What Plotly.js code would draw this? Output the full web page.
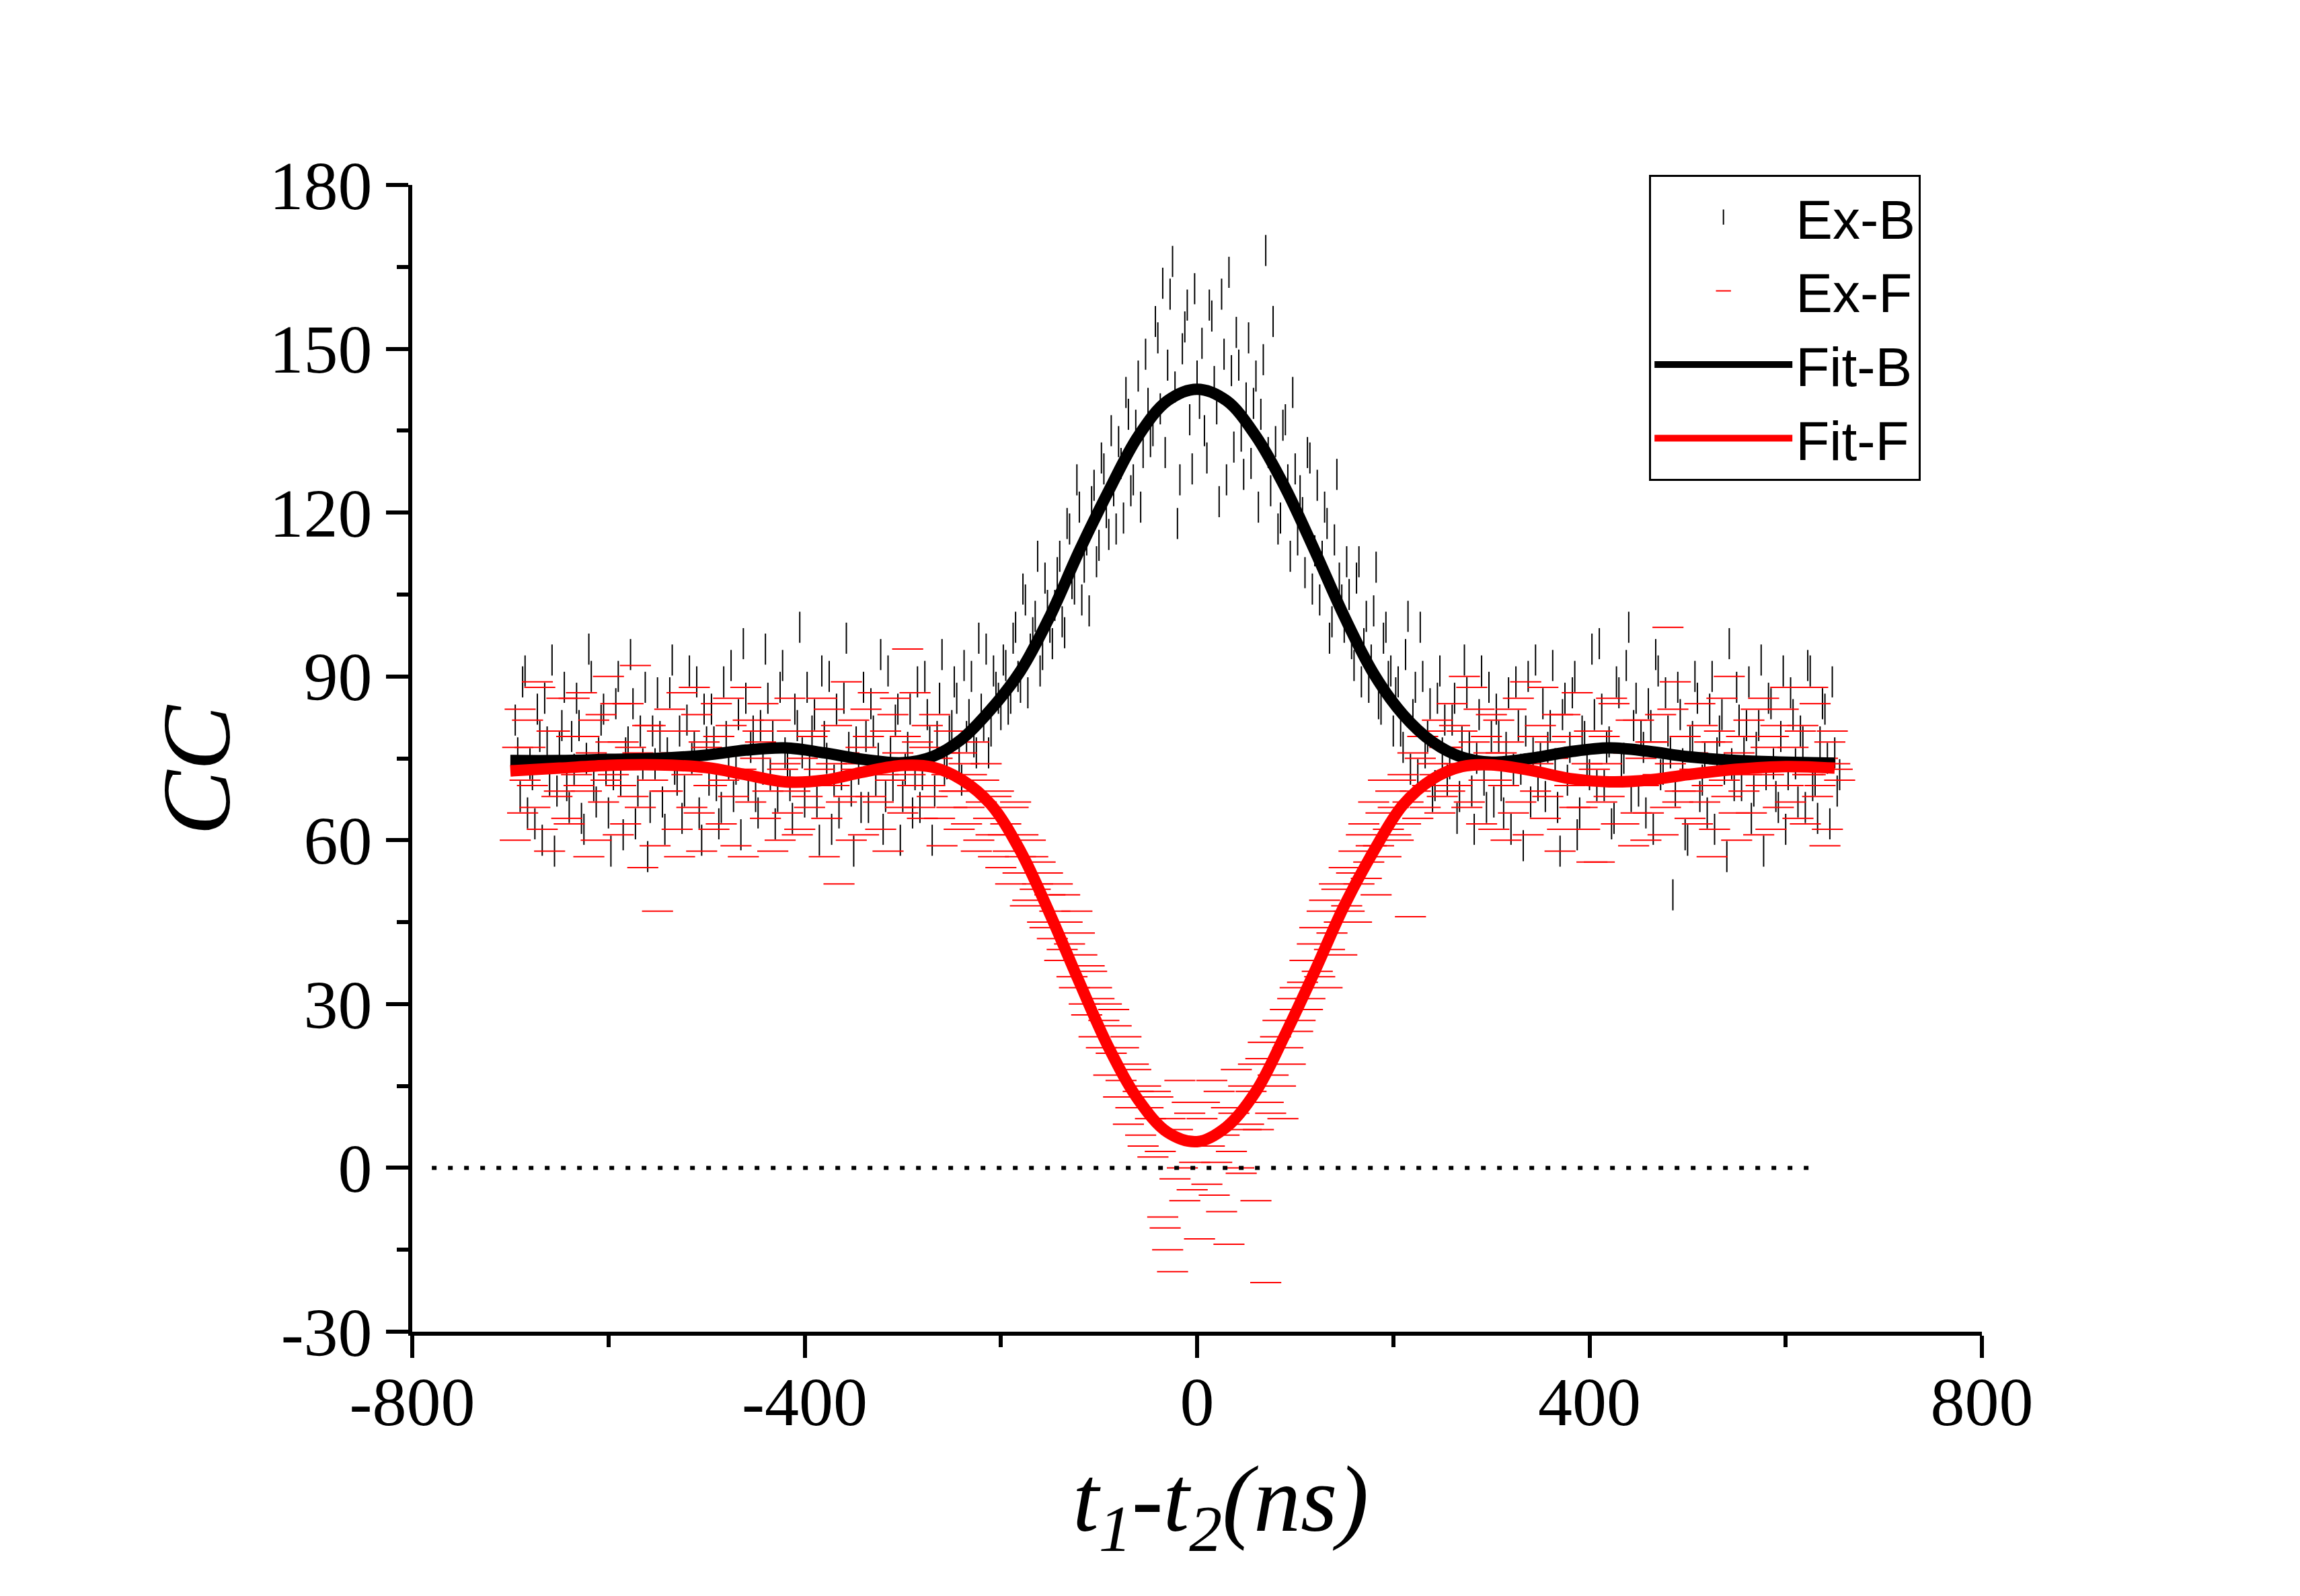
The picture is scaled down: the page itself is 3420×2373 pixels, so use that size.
<!DOCTYPE html>
<html>
<head>
<meta charset="utf-8">
<script src="https://cdn.plot.ly/plotly-3.0.1.min.js"></script>
<style>html,body{margin:0;padding:0;background:#fff;}#chart{width:3420px;height:2373px;}</style>
</head>
<body>
<div id="chart"></div>
<script>
// time offsets t1 - t2 (ns), first set of bins
const timeNs = [
 -695,-690,-685,-680,-675,-670,-665,-660,-655,-650,
 -645,-640,-635,-630,-625,-620,-615,-610,-605,-600,
 -595,-590,-585,-580,-575,-570,-565,-560,-555,-550,
 -545,-540,-535,-530,-525,-520,-515,-510,-505,-500,
 -495,-490,-485,-480,-475,-470,-465,-460,-455,-450,
 -445,-440,-435,-430,-425,-420,-415,-410,-405,-400,
 -395,-390,-385,-380,-375,-370,-365,-360,-355,-350,
 -345,-340,-335,-330,-325,-320,-315,-310,-305,-300,
 -295,-290,-285,-280,-275,-270,-265,-260,-255,-250,
 -245,-240,-235,-230,-225,-220,-215,-210,-205,-200,
 -195,-190,-185,-180,-175,-170,-165,-160,-155,-150,
 -145,-140,-135,-130,-125,-120,-115,-110,-105,-100,
 -95,-90,-85,-80,-75,-70,-65,-60,-55,-50,
 -45,-40,-35,-30,-25,-20,-15,-10,-5,0,
 5,10,15,20,25,30,35,40,45,50,
 55,60,65,70,75,80,85,90,95,100,
 105,110,115,120,125,130,135,140,145,150,
 155,160,165,170,175,180,185,190,195,200,
 205,210,215,220,225,230,235,240,245,250,
 255,260,265,270,275,280,285,290,295,300,
 305,310,315,320,325,330,335,340,345,350,
 355,360,365,370,375,380,385,390,395,400,
 405,410,415,420,425,430,435,440,445,450,
 455,460,465,470,475,480,485,490,495,500,
 505,510,515,520,525,530,535,540,545,550,
 555,560,565,570,575,580,585,590,595,600,
 605,610,615,620,625,630,635,640,645,650,
 655
];

// time offsets t1 - t2 (ns), interleaved second set of bins
const timeNs2 = [
 -692.5,-687.5,-682.5,-677.5,-672.5,-667.5,-662.5,-657.5,-652.5,-647.5,
 -642.5,-637.5,-632.5,-627.5,-622.5,-617.5,-612.5,-607.5,-602.5,-597.5,
 -592.5,-587.5,-582.5,-577.5,-572.5,-567.5,-562.5,-557.5,-552.5,-547.5,
 -542.5,-537.5,-532.5,-527.5,-522.5,-517.5,-512.5,-507.5,-502.5,-497.5,
 -492.5,-487.5,-482.5,-477.5,-472.5,-467.5,-462.5,-457.5,-452.5,-447.5,
 -442.5,-437.5,-432.5,-427.5,-422.5,-417.5,-412.5,-407.5,-402.5,-397.5,
 -392.5,-387.5,-382.5,-377.5,-372.5,-367.5,-362.5,-357.5,-352.5,-347.5,
 -342.5,-337.5,-332.5,-327.5,-322.5,-317.5,-312.5,-307.5,-302.5,-297.5,
 -292.5,-287.5,-282.5,-277.5,-272.5,-267.5,-262.5,-257.5,-252.5,-247.5,
 -242.5,-237.5,-232.5,-227.5,-222.5,-217.5,-212.5,-207.5,-202.5,-197.5,
 -192.5,-187.5,-182.5,-177.5,-172.5,-167.5,-162.5,-157.5,-152.5,-147.5,
 -142.5,-137.5,-132.5,-127.5,-122.5,-117.5,-112.5,-107.5,-102.5,-97.5,
 -92.5,-87.5,-82.5,-77.5,-72.5,-67.5,-62.5,-57.5,-52.5,-47.5,
 -42.5,-37.5,-32.5,-27.5,-22.5,-17.5,-12.5,-7.5,-2.5,2.5,
 7.5,12.5,17.5,22.5,27.5,32.5,37.5,42.5,47.5,52.5,
 57.5,62.5,67.5,72.5,77.5,82.5,87.5,92.5,97.5,102.5,
 107.5,112.5,117.5,122.5,127.5,132.5,137.5,142.5,147.5,152.5,
 157.5,162.5,167.5,172.5,177.5,182.5,187.5,192.5,197.5,202.5,
 207.5,212.5,217.5,222.5,227.5,232.5,237.5,242.5,247.5,252.5,
 257.5,262.5,267.5,272.5,277.5,282.5,287.5,292.5,297.5,302.5,
 307.5,312.5,317.5,322.5,327.5,332.5,337.5,342.5,347.5,352.5,
 357.5,362.5,367.5,372.5,377.5,382.5,387.5,392.5,397.5,402.5,
 407.5,412.5,417.5,422.5,427.5,432.5,437.5,442.5,447.5,452.5,
 457.5,462.5,467.5,472.5,477.5,482.5,487.5,492.5,497.5,502.5,
 507.5,512.5,517.5,522.5,527.5,532.5,537.5,542.5,547.5,552.5,
 557.5,562.5,567.5,572.5,577.5,582.5,587.5,592.5,597.5,602.5,
 607.5,612.5,617.5,622.5,627.5,632.5,637.5,642.5,647.5,652.5
];

// Ex-B measured coincidence counts (first bins)
const exB = [
 82,68,91,74,63,79,86,71,58,77,
 88,66,73,81,62,95,70,76,84,65,
 72,90,61,78,85,69,74,57,80,87,
 67,76,93,71,64,82,75,89,60,78,
 84,70,66,79,92,73,61,86,77,68,
 81,95,72,63,88,76,70,84,99,67,
 74,83,60,79,90,71,65,86,77,58,
 73,88,66,80,75,62,91,70,84,68,
 77,65,89,72,83,60,79,94,74,81,
 86,71,79,90,76,84,95,80,88,83,
 92,86,99,88,104,95,101,91,108,99,
 103,112,98,117,106,121,110,102,125,114,
 128,116,124,133,119,138,126,145,131,140,
 135,152,162,147,166,118,150,158,128,145,
 151,130,156,139,160,126,146,153,134,141,
 129,145,138,168,124,133,119,137,112,128,
 124,109,130,113,104,121,97,115,108,99,
 105,92,111,96,88,102,85,97,90,80,
 89,77,101,83,72,90,79,68,86,76,
 71,82,64,78,87,69,75,91,66,79,
 84,70,77,62,89,73,80,67,93,75,
 68,81,74,58,86,77,90,65,79,72,
 83,96,70,78,64,87,75,99,81,69,
 77,85,62,91,73,80,50,88,74,60,
 79,86,71,65,90,76,83,57,74,88,
 70,81,64,77,93,72,85,68,79,62,
 87,74,80,66,91,71,78,84,63,76,
 72
];

// Ex-B measured coincidence counts (interleaved bins)
const exB2 = [
 76,89,65,72,84,60,78,93,69,81,
 70,79,86,64,75,90,67,82,73,58,
 85,71,76,94,63,80,88,66,74,79,
 62,87,73,80,69,91,77,65,84,71,
 78,63,89,74,68,83,96,70,80,65,
 73,86,79,68,92,74,64,81,76,88,
 80,67,91,75,62,84,72,97,69,78,
 66,79,85,71,94,68,76,82,60,73,
 84,72,66,90,78,69,86,73,80,89,
 75,92,83,78,97,81,76,91,86,93,
 84,97,90,106,87,98,112,94,103,96,
 109,100,118,107,126,104,115,122,111,130,
 120,135,117,129,142,124,136,121,149,133,
 155,139,131,160,143,126,154,137,161,140,
 135,158,144,122,149,164,132,147,127,152,
 140,121,148,131,155,117,136,126,142,115,
 120,131,106,125,112,118,100,127,104,111,
 96,108,89,101,93,110,84,99,91,87,
 80,94,73,88,99,76,85,70,91,82,
 74,86,68,93,77,62,83,71,88,67,
 79,65,87,73,81,59,90,76,70,85,
 77,92,66,83,71,87,61,80,74,95,
 70,84,77,63,89,73,92,68,86,79,
 65,81,94,72,87,76,69,83,61,78,
 90,68,75,84,62,80,73,96,70,82,
 76,89,69,81,58,86,74,66,91,72,
 83,67,78,92,70,64,85,75,89,69
];

// Ex-F measured coincidence counts (first bins)
const exF = [
 60,84,71,77,66,88,73,58,80,69,
 75,63,86,70,79,57,82,74,67,90,
 72,61,78,85,68,76,55,81,71,47,
 80,69,74,62,87,72,66,83,58,77,
 70,85,63,76,81,59,73,88,67,75,
 78,64,71,82,60,74,86,69,62,77,
 66,80,73,57,84,70,52,76,68,82,
 74,61,79,87,67,72,58,83,76,65,
 95,70,78,64,81,68,75,59,72,66,
 69,76,63,72,58,67,74,61,68,55,
 63,52,67,57,48,60,51,56,44,50,
 47,38,50,41,33,43,30,37,24,31,
 27,17,29,13,22,8,19,14,4,11,
 2,13,-9,-15,-19,7,0,12,-4,5,
 9,-3,16,1,-8,11,3,18,-1,7,
 14,-6,20,-21,10,24,15,29,19,33,
 27,38,31,44,35,49,40,52,45,55,
 47,58,52,63,56,67,59,71,62,66,
 60,72,67,76,64,79,70,74,82,68,
 77,85,70,80,66,88,74,63,79,83,
 71,76,60,84,73,67,89,75,69,81,
 64,78,72,58,83,70,66,77,62,80,
 73,56,79,68,85,71,63,76,59,82,
 70,65,78,72,61,99,84,67,75,69,
 76,63,81,70,57,78,86,68,74,60,
 79,72,65,84,70,77,62,81,73,88,
 67,75,80,63,72,85,70,59,78,74,
 71
];

// Ex-F measured coincidence counts (interleaved bins)
const exF2 = [
 77,65,82,70,89,62,75,80,68,86,
 64,79,72,87,69,76,60,83,71,78,
 85,70,63,77,92,66,74,81,59,73,
 69,84,76,57,80,73,88,65,78,70,
 62,79,71,86,68,76,57,82,72,80,
 85,69,58,77,73,65,80,61,75,68,
 79,71,86,64,74,81,67,89,60,73,
 77,84,68,73,62,80,71,86,66,79,
 72,87,66,77,70,83,64,76,80,69,
 62,74,66,78,60,71,64,57,69,61,
 58,66,54,61,49,57,52,45,54,42,
 52,40,45,35,47,39,28,36,33,22,
 30,21,26,16,24,11,18,6,15,9,
 14,3,-11,9,-2,16,-6,10,1,-13,
 12,4,-5,14,6,-14,10,0,15,8,
 19,7,23,12,17,27,9,22,31,25,
 34,29,41,36,47,33,43,51,39,48,
 54,45,61,53,59,50,65,57,69,61,
 71,63,46,69,75,66,80,72,65,77,
 69,81,74,90,67,78,84,71,76,62,
 82,70,78,65,86,73,61,79,74,88,
 68,75,83,62,79,71,87,66,74,56,
 80,67,74,86,63,77,70,82,65,75,
 60,78,71,83,66,74,89,69,79,64,
 73,85,67,78,62,80,71,90,65,76,
 69,82,75,61,86,72,79,66,84,70,
 77,64,81,72,88,68,75,62,80,73
];

// fitted curves
const fitX = [-700,-650,-600,-550,-500,-460,-420,-380,-340,-300,-270,-240,-210,-180,-150,-120,-90,-60,-30,0,
               30,60,90,120,150,180,210,240,270,300,340,380,420,460,500,550,600,650];
const fitB = [74.6,74.6,74.8,75.0,75.6,76.5,76.9,76.0,74.8,74.2,75.3,78.5,84,91,101,113,124,134,140.5,142.6,
               140.5,134,124.5,113,101,90.5,83,78,75.2,74.3,75.0,76.2,76.9,76.3,75.3,74.6,74.3,74.1];
const fitF = [72.7,73.2,73.7,73.8,73.3,72.0,70.7,71.0,72.5,73.7,73.4,71.1,66.5,58,46.5,34,22,12.5,6.5,4.8,
               7.5,14,24.5,36,48,58,66.5,71.2,73.5,73.8,72.8,71.3,70.7,71.0,72.0,73.0,73.5,73.2];

// dotted reference line at zero
const zeroX = [-780, 625];
const zeroY = [0, 0];

// axis ticks
const xTickVals = [-800, -400, 0, 400, 800];
const xTickText = ['-800', '-400', '0', '400', '800'];
const xMinorVals = [-600, -200, 200, 600];
const yTickVals = [-30, 0, 30, 60, 90, 120, 150, 180];
const yTickText = ['-30', '0', '30', '60', '90', '120', '150', '180'];
const yMinorVals = [-15, 15, 45, 75, 105, 135, 165];

const serif = 'Liberation Serif, Times New Roman, serif';
const sans = 'Liberation Sans, Arial, sans-serif';

const traces = [
  {
    x: timeNs.concat(timeNs2), y: exB.concat(exB2), name: 'Ex-B', type: 'scatter', mode: 'markers',
    marker: {symbol: 'line-ns', size: 33, color: '#000000', line: {color: '#000000', width: 2}}
  },
  {
    x: timeNs.concat(timeNs2), y: exF.concat(exF2), name: 'Ex-F', type: 'scatter', mode: 'markers',
    marker: {symbol: 'line-ew', size: 33, color: '#ff0000', line: {color: '#ff0000', width: 2}}
  },
  {
    x: zeroX, y: zeroY, type: 'scatter', mode: 'lines', showlegend: false, hoverinfo: 'skip',
    line: {color: '#000000', width: 6, dash: '7px,17px'}
  },
  {
    x: fitX, y: fitB, name: 'Fit-B', type: 'scatter', mode: 'lines',
    line: {color: '#000000', width: 17, shape: 'spline', smoothing: 1}
  },
  {
    x: fitX, y: fitF, name: 'Fit-F', type: 'scatter', mode: 'lines',
    line: {color: '#ff0000', width: 17, shape: 'spline', smoothing: 1}
  }
];

const axisCommon = {
  showline: true, linecolor: '#000000', linewidth: 6, mirror: false,
  showgrid: false, zeroline: false,
  ticks: 'outside', ticklen: 33, tickwidth: 6, tickcolor: '#000000',
  tickfont: {family: serif, size: 102, color: '#000000'},
  tickmode: 'array'
};

const layout = {
  width: 3420, height: 2373,
  paper_bgcolor: '#ffffff', plot_bgcolor: '#ffffff',
  margin: {l: 613, r: 473, t: 275, b: 393, pad: 0},
  showlegend: true,
  xaxis: Object.assign({}, axisCommon, {
    range: [-800, 800], tickvals: xTickVals, ticktext: xTickText,
    ticklabelstandoff: -22,
    minor: {tickmode: 'array', tickvals: xMinorVals, ticks: 'outside', ticklen: 17, tickwidth: 6, tickcolor: '#000000'},
    title: {text: '&nbsp;&nbsp;<i>t<sub>1</sub>-t<sub>2</sub>(ns)</i>', font: {family: serif, size: 140, color: '#000000'}, standoff: 40}
  }),
  yaxis: Object.assign({}, axisCommon, {
    range: [-30, 180], tickvals: yTickVals, ticktext: yTickText,
    minor: {tickmode: 'array', tickvals: yMinorVals, ticks: 'outside', ticklen: 17, tickwidth: 6, tickcolor: '#000000'},
    title: {text: '<i>CC</i>&nbsp;', font: {family: serif, size: 145, color: '#000000'}, standoff: 12}
  }),
  legend: {
    x: 0.788, y: 1.0088, xanchor: 'left', yanchor: 'top',
    bgcolor: '#ffffff', bordercolor: '#000000', borderwidth: 3,
    font: {family: sans, size: 82, color: '#000000'},
    itemwidth: 205, tracegroupgap: 0
  }
};

Plotly.newPlot('chart', traces, layout, {staticPlot: true, displayModeBar: false});
</script>
</body>
</html>
